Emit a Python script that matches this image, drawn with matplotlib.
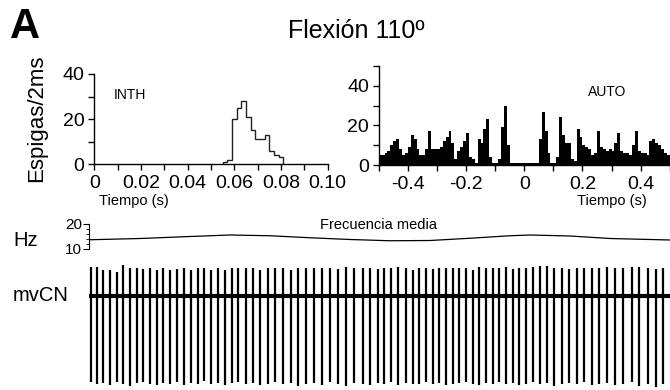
import numpy as np
import matplotlib
matplotlib.use("Agg")
import matplotlib.pyplot as plt
from matplotlib.ticker import MultipleLocator

plt.rcParams['font.family'] = ['Liberation Sans', 'DejaVu Sans']
plt.rcParams['axes.unicode_minus'] = False

## INTH: histograma de intervalos (bins de 2 ms)
inth_start = 0.055
inth_binw = 0.002
inth_counts = [1, 2, 20, 25, 28, 21, 15, 11, 11, 13, 6, 4, 3]

## AUTO: autocorrelograma de -0.5 a 0.5 s (bins de 10 ms)
auto_start = -0.5
auto_binw = 0.01
auto_counts = [5, 5, 6, 7, 10, 12, 13, 8, 5, 6,
               9, 15, 13, 8, 5, 5, 8, 17, 8, 8,
               8, 9, 12, 14, 17, 11, 3, 7, 9, 12,
               16, 4, 3, 1, 13, 11, 18, 23, 4, 1,
               1, 3, 19, 30, 10, 1, 1, 1, 1, 1,
               1, 1, 1, 1, 1, 13, 27, 17, 6, 1,
               1, 4, 24, 15, 11, 11, 3, 2, 18, 14,
               10, 9, 8, 5, 6, 17, 9, 8, 7, 8,
               7, 11, 16, 7, 6, 6, 5, 10, 17, 7,
               6, 6, 5, 12, 13, 11, 10, 8, 6, 5]

## Frecuencia media (Hz)
hz_t = [0.0, 0.5, 1.0, 1.4, 1.8, 2.2, 2.6, 3.0, 3.4, 3.8, 4.2, 4.4, 4.8, 5.2, 5.8]
hz_val = [13.7, 14.2, 15.0, 15.6, 15.3, 14.5, 13.8, 13.3, 13.4, 14.3, 15.3, 15.6, 15.2, 14.2, 13.6]

## Registro mvCN: tiempos de espigas (s), extremos superior e inferior
spike_t = [0.01, 0.07, 0.13, 0.20, 0.27, 0.33, 0.40, 0.47, 0.53, 0.60,
           0.67, 0.73, 0.80, 0.87, 0.94, 1.01, 1.08, 1.14, 1.21, 1.28,
           1.35, 1.42, 1.48, 1.56, 1.63, 1.70, 1.78, 1.85, 1.93, 2.01,
           2.08, 2.16, 2.24, 2.32, 2.40, 2.48, 2.56, 2.64, 2.73, 2.80,
           2.88, 2.94, 3.01, 3.08, 3.16, 3.23, 3.29, 3.36, 3.43, 3.49,
           3.56, 3.63, 3.69, 3.76, 3.83, 3.89, 3.96, 4.03, 4.09, 4.16,
           4.23, 4.29, 4.36, 4.43, 4.50, 4.57, 4.64, 4.72, 4.79, 4.87,
           4.94, 5.02, 5.09, 5.17, 5.25, 5.33, 5.42, 5.49, 5.58, 5.66,
           5.73]
spike_top = [0.29, 0.29, 0.26, 0.26, 0.24, 0.31, 0.28, 0.28, 0.27, 0.28,
             0.26, 0.28, 0.26, 0.27, 0.28, 0.26, 0.28, 0.28, 0.26, 0.28,
             0.26, 0.28, 0.28, 0.28, 0.28, 0.26, 0.28, 0.28, 0.28, 0.26,
             0.28, 0.28, 0.28, 0.28, 0.28, 0.27, 0.29, 0.28, 0.28, 0.28,
             0.27, 0.28, 0.28, 0.29, 0.28, 0.26, 0.28, 0.28, 0.27, 0.28,
             0.28, 0.28, 0.28, 0.28, 0.26, 0.29, 0.28, 0.28, 0.28, 0.29,
             0.27, 0.28, 0.28, 0.29, 0.30, 0.30, 0.28, 0.28, 0.27, 0.28,
             0.28, 0.28, 0.28, 0.29, 0.28, 0.28, 0.29, 0.29, 0.28, 0.27,
             0.28]
spike_bot = [-0.86, -0.88, -0.87, -0.89, -0.86, -0.88, -0.90, -0.87, -0.86, -0.88,
             -0.89, -0.87, -0.88, -0.86, -0.89, -0.87, -0.88, -0.85, -0.88, -0.87,
             -0.89, -0.87, -0.86, -0.88, -0.87, -0.89, -0.88, -0.86, -0.88, -0.87,
             -0.90, -0.88, -0.87, -0.89, -0.86, -0.88, -0.90, -0.87, -0.88, -0.89,
             -0.87, -0.88, -0.86, -0.89, -0.87, -0.88, -0.88, -0.86, -0.88, -0.87,
             -0.89, -0.88, -0.87, -0.86, -0.88, -0.89, -0.87, -0.88, -0.86, -0.88,
             -0.87, -0.89, -0.88, -0.86, -0.88, -0.87, -0.90, -0.88, -0.87, -0.88,
             -0.86, -0.89, -0.88, -0.87, -0.89, -0.88, -0.86, -0.90, -0.88, -0.91,
             -0.88]

W, H = 670.0, 390.0
def fx(px):
    return px / W
def fy(py):
    return 1 - py / H

fig = plt.figure(figsize=(6.7, 3.9), dpi=100)

def style_axes(ax):
    for s in ['top', 'right']:
        ax.spines[s].set_visible(False)
    for s in ['left', 'bottom']:
        ax.spines[s].set_linewidth(1.0)
    ax.tick_params(which='major', direction='out', length=4, width=1.0,
                   labelsize=14, pad=3)
    ax.tick_params(which='minor', direction='out', length=4, width=1.0)
    ax.tick_params(axis='x', which='major', pad=4)

#### INTH
ax1 = fig.add_axes([fx(94.3), fy(164), fx(327.7) - fx(94.3), fy(74) - fy(164)])
edges1 = inth_start + inth_binw * np.arange(len(inth_counts) + 1)
ax1.stairs(inth_counts, edges1, color='#222222', lw=1.0, clip_on=False)
ax1.set_xlim(0, 0.1)
ax1.set_ylim(0, 40)
ax1.set_xticks([0, 0.02, 0.04, 0.06, 0.08, 0.10])
ax1.set_xticklabels(['0', '0.02', '0.04', '0.06', '0.08', '0.10'])
ax1.set_yticks([0, 20, 40])
ax1.xaxis.set_minor_locator(MultipleLocator(0.01))
ax1.yaxis.set_minor_locator(MultipleLocator(10))
style_axes(ax1)

#### AUTO
ax2 = fig.add_axes([fx(378.7), fy(165), fx(669.8) - fx(378.7), fy(66) - fy(165)])
edges2 = auto_start + auto_binw * np.arange(len(auto_counts) + 1)
ax2.stairs(auto_counts, edges2, fill=True, color='black', lw=0)
ax2.set_xlim(-0.5, 0.5)
ax2.set_ylim(0, 50)
ax2.set_xticks([-0.4, -0.2, 0, 0.2, 0.4])
ax2.set_xticklabels(['-0.4', '-0.2', '0', '0.2', '0.4'])
ax2.set_yticks([0, 20, 40])
ax2.xaxis.set_minor_locator(MultipleLocator(0.1))
ax2.yaxis.set_minor_locator(MultipleLocator(10))
style_axes(ax2)

#### Frecuencia media
ax3 = fig.add_axes([fx(89.3), fy(249), fx(670) - fx(89.3), fy(224) - fy(249)])
ax3.plot(hz_t, hz_val, color='black', lw=0.9)
ax3.set_xlim(-0.007, 5.8)
ax3.set_ylim(10, 20)
ax3.set_yticks([10, 20])
ax3.yaxis.set_minor_locator(MultipleLocator(2))
for s in ['top', 'right', 'bottom']:
    ax3.spines[s].set_visible(False)
ax3.spines['left'].set_linewidth(0.8)
ax3.set_xticks([])
ax3.tick_params(axis='y', which='major', direction='out', length=4, width=0.8,
                labelsize=11, pad=1)
ax3.tick_params(axis='y', which='minor', direction='out', length=2, width=0.6)
ax3.patch.set_visible(False)

#### mvCN
ax4 = fig.add_axes([fx(89.3), fy(390), fx(670) - fx(89.3), fy(262) - fy(390)])
ax4.axhline(0, color='black', lw=3.0)
ax4.vlines(spike_t, spike_bot, spike_top, color='black', lw=1.6)
ax4.set_xlim(-0.007, 5.8)
ax4.set_ylim(-0.94, 0.34)
ax4.axis('off')

## Textos
fig.text(fx(10), fy(38), 'A', fontsize=30, fontweight='bold', va='baseline')
fig.text(fx(356), fy(31), 'Flexión 110º', ha='center', va='center', fontsize=18)
fig.text(fx(37), fy(118), 'Espigas/2ms', rotation=90, ha='center', va='center', fontsize=16)
fig.text(fx(130), fy(95), 'INTH', ha='center', va='center', fontsize=10)
fig.text(fx(607), fy(92.5), 'AUTO', ha='center', va='center', fontsize=10)
fig.text(fx(134), fy(201), 'Tiempo (s)', ha='center', va='center', fontsize=10.5)
fig.text(fx(612), fy(201), 'Tiempo (s)', ha='center', va='center', fontsize=10.5)
fig.text(fx(379), fy(225), 'Frecuencia media', ha='center', va='center', fontsize=10.5)
fig.text(fx(26), fy(240), 'Hz', ha='center', va='center', fontsize=14.5)
fig.text(fx(40.5), fy(295.5), 'mvCN', ha='center', va='center', fontsize=14.5)

fig.savefig('out.png', dpi=100)
